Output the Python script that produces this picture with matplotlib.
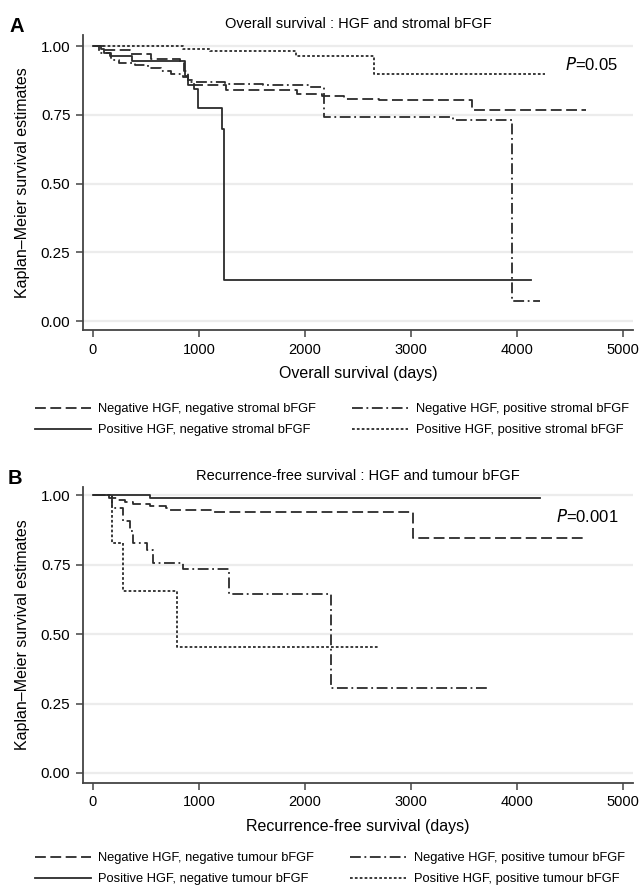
import numpy as np
import matplotlib
matplotlib.use("Agg")
import matplotlib.pyplot as plt

plt.rcParams['font.family'] = ['Liberation Sans', 'DejaVu Sans']

### Data ###

# Panel A : overall survival, HGF and stromal bFGF
a_negneg_t = [0, 100, 347, 548, 818, 860, 900, 952, 1255, 1928, 2164, 2365, 2702, 3577, 4653]
a_negneg_s = [1.0, 0.987, 0.972, 0.954, 0.942, 0.91, 0.875, 0.857, 0.839, 0.827, 0.818, 0.809, 0.803, 0.767, 0.767]

a_negpos_t = [0, 60, 170, 250, 400, 520, 640, 740, 850, 900, 1250, 1600, 2050, 2180, 3400, 3957, 4216]
a_negpos_s = [1.0, 0.975, 0.948, 0.94, 0.93, 0.92, 0.91, 0.90, 0.888, 0.87, 0.863, 0.857, 0.851, 0.743, 0.73, 0.072, 0.072]

a_posneg_t = [0, 80, 100, 160, 365, 868, 900, 950, 990, 1215, 1240, 4132]
a_posneg_s = [1.0, 0.99, 0.975, 0.965, 0.944, 0.89, 0.86, 0.845, 0.773, 0.70, 0.149, 0.149]

a_pospos_t = [0, 851, 1104, 1911, 2651, 4266]
a_pospos_s = [1.0, 0.99, 0.981, 0.964, 0.897, 0.897]

# Panel B : recurrence-free survival, HGF and tumour bFGF
b_negneg_t = [0, 150, 230, 300, 380, 540, 690, 730, 1130, 3020, 4640]
b_negneg_s = [1.0, 0.99, 0.982, 0.975, 0.968, 0.96, 0.952, 0.946, 0.938, 0.845, 0.845]

b_negpos_t = [0, 176, 286, 349, 381, 506, 569, 849, 1280, 2250, 3720]
b_negpos_s = [1.0, 0.952, 0.905, 0.869, 0.827, 0.804, 0.756, 0.735, 0.645, 0.307, 0.307]

b_posneg_t = [0, 540, 4220]
b_posneg_s = [1.0, 0.99, 0.99]

b_pospos_t = [0, 176, 286, 795, 2690]
b_pospos_s = [1.0, 0.827, 0.655, 0.455, 0.455]

x_ticks = [0, 1000, 2000, 3000, 4000, 5000]
y_ticks = [0.0, 0.25, 0.5, 0.75, 1.0]

labels_a = ["Negative HGF, negative stromal bFGF", "Negative HGF, positive stromal bFGF",
            "Positive HGF, negative stromal bFGF", "Positive HGF, positive stromal bFGF"]
labels_b = ["Negative HGF, negative tumour bFGF", "Negative HGF, positive tumour bFGF",
            "Positive HGF, negative tumour bFGF", "Positive HGF, positive tumour bFGF"]

### Styles ###

line_col = '#2b2b2b'
styles = {
    'negneg': dict(linestyle=(0, (6, 2.5)), linewidth=1.3),
    'negpos': dict(linestyle=(0, (6, 2, 1, 2)), linewidth=1.3),
    'posneg': dict(linestyle='-', linewidth=1.3),
    'pospos': dict(linestyle=(0, (1.5, 1.2)), linewidth=1.3),
}


def km_panel(ax, curves, labels, title, xlabel, ptext, ylim, leg_y):
    handles = {}
    for key, (t, s) in curves.items():
        h, = ax.step(t, s, where='post', color=line_col, **styles[key])
        handles[key] = h

    ax.set_xlim(-94, 5094)
    ax.set_ylim(*ylim)
    ax.set_xticks(x_ticks)
    ax.set_yticks(y_ticks)
    ax.set_yticklabels([f"{v:.2f}" for v in y_ticks])
    ax.tick_params(length=5, width=1.1, color='#444444', pad=4)
    ax.tick_params(axis='x', labelsize=10.5)
    ax.tick_params(axis='y', labelsize=11)

    # light horizontal grid
    for v in y_ticks:
        ax.axhline(v, color='#ececec', linewidth=1.6, zorder=0)

    for side in ['top', 'right']:
        ax.spines[side].set_visible(False)
    for side in ['left', 'bottom']:
        ax.spines[side].set_color('#444444')
        ax.spines[side].set_linewidth(1.3)

    ax.set_title(title, fontsize=10.5, pad=5)
    ax.set_xlabel(xlabel, fontsize=11.5, labelpad=7)
    ax.set_ylabel("Kaplan\u2013Meier survival estimates", fontsize=11.5, labelpad=8)

    ax.text(0.973, 0.9, ptext, transform=ax.transAxes, ha='right', va='center', fontsize=12)

    # two-column legend below the axes
    order = ['negneg', 'posneg', 'negpos', 'pospos']
    lab = {'negneg': labels[0], 'negpos': labels[1], 'posneg': labels[2], 'pospos': labels[3]}
    ax.legend([handles[k] for k in order], [lab[k] for k in order], ncol=2,
              loc='upper left', bbox_to_anchor=(0.055, leg_y), bbox_transform=ax.figure.transFigure,
              frameon=False, fontsize=9.3, handlelength=4.3, handletextpad=0.6,
              columnspacing=2.8, labelspacing=0.7, borderpad=0, borderaxespad=0)


fig = plt.figure(figsize=(6.39, 8.86), dpi=100)
ax_a = fig.add_axes([83 / 639, 1 - 330 / 886, 550 / 639, 295 / 886])
ax_b = fig.add_axes([83 / 639, 1 - 783 / 886, 550 / 639, 296 / 886])

km_panel(ax_a,
         {'negneg': (a_negneg_t, a_negneg_s), 'negpos': (a_negpos_t, a_negpos_s),
          'posneg': (a_posneg_t, a_posneg_s), 'pospos': (a_pospos_t, a_pospos_s)},
         labels_a, "Overall survival : HGF and stromal bFGF", "Overall survival (days)",
         r"$\it{P}$=0.05", (-0.0327, 1.04), 1 - 403 / 886)

km_panel(ax_b,
         {'negneg': (b_negneg_t, b_negneg_s), 'negpos': (b_negpos_t, b_negpos_s),
          'posneg': (b_posneg_t, b_posneg_s), 'pospos': (b_pospos_t, b_pospos_s)},
         labels_b, "Recurrence-free survival : HGF and tumour bFGF", "Recurrence-free survival (days)",
         r"$\it{P}$=0.001", (-0.036, 1.029), 1 - 852 / 886)

fig.text(9 / 639, 1 - 26 / 886, "A", fontsize=14.5, fontweight='bold', va='center', ha='left')
fig.text(8 / 639, 1 - 479 / 886, "B", fontsize=14.5, fontweight='bold', va='center', ha='left')

fig.savefig("out.png", dpi=100)
